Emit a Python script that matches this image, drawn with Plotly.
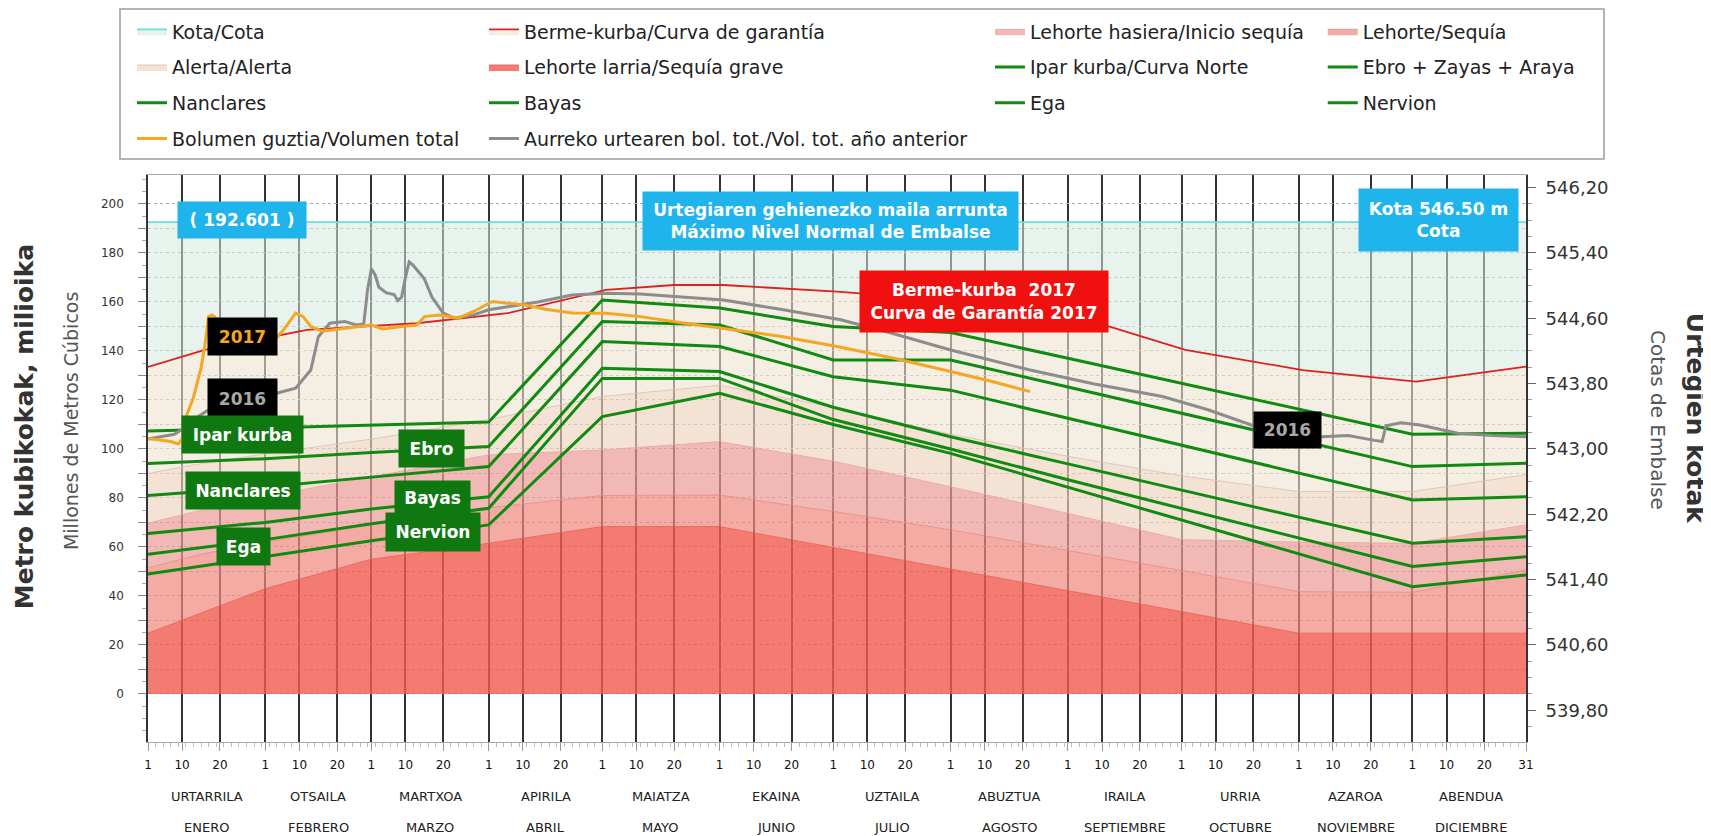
import plotly.graph_objects as go

# --- calendar (2017, day of year) -------------------------------------------
MONTH_START = [1, 32, 60, 91, 121, 152, 182, 213, 244, 274, 305, 335]
YEAR_END = 365
MONTHS_EU = ["URTARRILA", "OTSAILA", "MARTXOA", "APIRILA", "MAIATZA", "EKAINA",
             "UZTAILA", "ABUZTUA", "IRAILA", "URRIA", "AZAROA", "ABENDUA"]
MONTHS_ES = ["ENERO", "FEBRERO", "MARZO", "ABRIL", "MAYO", "JUNIO", "JULIO",
             "AGOSTO", "SEPTIEMBRE", "OCTUBRE", "NOVIEMBRE", "DICIEMBRE"]

# --- zone limits (hm3) -------------------------------------------------------
BAND_DAYS = [1, 15, 32, 60, 91, 121, 152, 182, 213, 244, 274, 305, 335, 365]
SEQ_GRAVE = [24.8, 33, 43, 55, 61.5, 68.3, 68.3, 59.8, 51, 42.2, 33.7, 24.8, 24.8, 24.8]
SEQUIA = [51.5, 57, 62, 69, 76, 81, 81.2, 74.5, 67, 58.7, 50.4, 41.8, 41.5, 50.6]
INICIO = [69.7, 75, 80.5, 88.7, 97.6, 99.6, 103, 95, 84.6, 73.7, 63, 62, 61.5, 69]
ALERTA = [90, 94, 98, 104, 112, 121.4, 126, 117, 106, 97, 89, 82.6, 82.6, 89.5]

BERME_DAYS = [1, 16, 43, 72, 96, 122, 140, 153, 183, 214, 230, 255, 275, 306, 336, 365]
BERME = [133.5, 140.4, 148.6, 151.3, 155.4, 164.9, 166.9, 166.9, 164.2, 160.5, 156,
         149.9, 140.4, 132.2, 127.5, 133.6]

KOTA_DAYS = [1, 365]
KOTA = [192.601, 192.601]

# --- operating curves ---------------------------------------------------------
CURVE_DAYS = [1, 32, 60, 91, 121, 152, 182, 213, 244, 274, 305, 335, 365]
IPAR = [107.3, 108.5, 109.5, 111, 160.8, 157.5, 150, 147.5, 137, 126.8, 116.3, 106, 106.4]
EBRO = [94.1, 96, 98.5, 101, 152, 150.6, 136.3, 136.3, 125.3, 114.6, 103.5, 92.8, 94.2]
NANCLARES = [81, 84.5, 88.5, 92.8, 143.8, 141.8, 129.5, 124, 112.5, 101.5, 90.3, 79.2, 80.5]
BAYAS = [65.5, 70, 75.5, 80.5, 132.9, 131.6, 117, 105, 93.9, 83.2, 72.2, 61.5, 64.2]
EGA = [57, 63, 69.5, 75.8, 128.8, 128.8, 112, 100, 87.4, 75.7, 63.6, 52, 56]
NERVION = [49, 56, 62.5, 69, 113.2, 122.7, 110, 98.2, 84.4, 71, 57.2, 43.8, 48.6]

# --- stored volume -------------------------------------------------------------
VOL17_DAYS = [1, 4, 7, 9, 10, 11, 13, 15, 16, 17, 18, 20, 25, 30, 35, 37, 40, 42, 44,
              47, 52, 60, 63, 65, 68, 72, 74, 78, 83, 87, 92, 96, 100, 106, 113, 122,
              131, 142, 153, 168, 183, 198, 213, 224, 234]
VOL17 = [104.3, 103.8, 103, 102, 104, 113, 121, 133, 142, 154, 154.7, 152, 148, 146,
         145.4, 149, 155.4, 154, 150, 148, 149, 150.6, 149, 149.5, 150, 150.6, 154,
         154.7, 153.4, 156.1, 160.2, 159.5, 158.9, 157, 155.5, 155.4, 154, 151.5,
         149.3, 146, 141.8, 137, 131.6, 127.5, 123.4]

VOL16_DAYS = [1, 5, 8, 10, 12, 15, 18, 22, 27, 32, 35, 40, 44, 46, 49, 53, 56, 58, 59,
              60, 61, 62, 64, 66, 67, 68, 69, 70, 71, 74, 76, 79, 82, 87, 91, 96, 104,
              113, 122, 131, 153, 168, 184, 198, 213, 234, 251, 269, 281, 293, 302,
              311, 318, 325, 327, 328, 332, 337, 341, 347, 356, 365]
VOL16 = [104, 105, 106, 108, 111, 114, 117, 120, 121, 122, 122.7, 124.8, 132.2, 145.8,
         151.3, 152, 150.6, 151, 165, 173.5, 171, 166, 163.7, 163, 160.5, 162, 170,
         176.3, 175, 169.4, 162, 155.4, 153.4, 154.7, 156.8, 158, 160, 162.8, 163.5,
         163.2, 160.8, 157, 152.7, 147, 140.4, 132.2, 126.5, 121.4, 116, 109.5, 107,
         105, 105.5, 103.5, 103, 109.5, 110.7, 109.8, 108.5, 106.4, 105.5, 105]

# --- axes -------------------------------------------------------------------------
Y_RANGE = [-19.6, 211.8]
Y_TICKS = list(range(0, 201, 10))
RIGHT_TICKS = [539.8, 540.6, 541.4, 542.2, 543.0, 543.8, 544.6, 545.4, 546.2]
M_BASE, M_PER_HM3 = 540.0, 0.03   # cota = 540 + 0.03 * volumen (axis scale)

FONT = "DejaVu Sans"
GREEN = "#118a11"

x_ticks, x_text = [], []
for m in MONTH_START:
    x_ticks += [m, m + 9, m + 19]
    x_text += ["1", "10", "20"]
x_ticks.append(YEAR_END)
x_text.append("31")

fig = go.Figure()

# zones, stacked bottom -> top
bands = [
    ("Lehorte larria/Sequía grave", BAND_DAYS, SEQ_GRAVE, "rgba(241,90,79,0.8)", "rgba(230,100,90,0.9)", "legend2", 2),
    ("Lehorte/Sequía", BAND_DAYS, SEQUIA, "rgba(239,136,124,0.7)", "rgba(225,140,130,0.8)", "legend4", 1),
    ("Lehorte hasiera/Inicio sequía", BAND_DAYS, INICIO, "rgba(236,154,149,0.7)", "rgba(225,165,160,0.8)", "legend3", 1),
    ("Alerta/Alerta", BAND_DAYS, ALERTA, "rgba(238,212,189,0.65)", "rgba(220,195,180,0.9)", "legend", 2),
    ("Berme-kurba/Curva de garantía", BERME_DAYS, BERME, "rgba(237,227,208,0.6)", "#dd2020", "legend2", 1),
    ("Kota/Cota", KOTA_DAYS, KOTA, "rgba(213,233,224,0.55)", "#6adede", "legend", 1),
]
for i, (name, xs, ys, fillc, linec, leg, rank) in enumerate(bands):
    fig.add_trace(go.Scatter(
        x=xs, y=ys, name=name, mode="lines",
        fill="tozeroy" if i == 0 else "tonexty", fillcolor=fillc,
        line=dict(color=linec, width=1.8 if i >= 4 else 1),
        legend=leg, legendrank=rank, legendgroup=name, hoverinfo="skip",
    ))

curves = [
    ("Ipar kurba/Curva Norte", IPAR, "legend3", 2),
    ("Ebro + Zayas + Araya", EBRO, "legend4", 2),
    ("Nanclares", NANCLARES, "legend", 3),
    ("Bayas", BAYAS, "legend2", 3),
    ("Ega", EGA, "legend3", 3),
    ("Nervion", NERVION, "legend4", 3),
]
for name, ys, leg, rank in curves:
    fig.add_trace(go.Scatter(
        x=CURVE_DAYS, y=ys, name=name, mode="lines",
        line=dict(color=GREEN, width=3),
        legend=leg, legendrank=rank, legendgroup=name,
    ))

fig.add_trace(go.Scatter(
    x=VOL16_DAYS, y=VOL16, name="Aurreko urtearen bol. tot./Vol. tot. año anterior",
    mode="lines", line=dict(color="#8c8c8c", width=3),
    legend="legend2", legendrank=4, legendgroup="v16",
))
fig.add_trace(go.Scatter(
    x=VOL17_DAYS, y=VOL17, name="Bolumen guztia/Volumen total",
    mode="lines", line=dict(color="#f5a623", width=3),
    legend="legend", legendrank=4, legendgroup="v17",
))
# carrier for the right-hand elevation axis
fig.add_trace(go.Scatter(
    x=KOTA_DAYS, y=[M_BASE + M_PER_HM3 * v for v in KOTA], yaxis="y2",
    mode="lines", line=dict(width=0), opacity=0, showlegend=False, hoverinfo="skip",
))

# --- text boxes ---------------------------------------------------------------
def box(x, y, text, bg, color="white", w=None, h=None, size=17):
    return dict(x=x, y=y, xref="x", yref="y", text=text, showarrow=False,
                bgcolor=bg, width=w, height=h, borderpad=0,
                xanchor="center", yanchor="middle",
                font=dict(family=FONT, size=size, color=color, weight="bold"))

annotations = [
    box(25.7, 193.5, "( 192.601 )", "#1fb4ec", w=128, h=36),
    box(181.4, 193.1, "Urtegiaren gehienezko maila arrunta<br>Máximo Nivel Normal de Embalse",
        "#1fb4ec", w=375, h=58),
    box(341.8, 193.5, "Kota 546.50 m<br>Cota", "#1fb4ec", w=159, h=62),
    box(221.9, 160, "Berme-kurba  2017<br>Curva de Garantía 2017", "#f01010", w=248, h=61),
    box(25.9, 145.9, "2017", "black", color="#f5a623", w=69, h=37),
    box(25.9, 120.6, "2016", "black", color="#a8a8a8", w=69, h=39),
    box(302.1, 107.8, "2016", "black", color="#a8a8a8", w=67, h=36),
    box(25.9, 105.9, "Ipar kurba", "#107810", w=121, h=37),
    box(26.0, 83.1, "Nanclares", "#107810", w=114, h=37),
    box(26.1, 60.2, "Ega", "#107810", w=53, h=37),
    box(75.8, 100.2, "Ebro", "#107810", w=65, h=37),
    box(76.1, 80.0, "Bayas", "#107810", w=75, h=33),
    box(76.2, 66.1, "Nervion", "#107810", w=94, h=38),
]

# month names, two rows
for i, m in enumerate(MONTH_START):
    nxt = MONTH_START[i + 1] if i + 1 < len(MONTH_START) else YEAR_END + 1
    mid = (m + nxt) / 2
    for label, yp in ((MONTHS_EU[i], -0.097), (MONTHS_ES[i], -0.150)):
        annotations.append(dict(x=mid, y=yp, xref="x", yref="paper", text=label,
                                xanchor="center", yanchor="middle", showarrow=False,
                                font=dict(family=FONT, size=13, color="#222")))

# axis titles
def side_title(x, y, text, angle, size, color):
    return dict(x=x, y=y, xref="paper", yref="paper", text=text, textangle=angle,
                xanchor="center", yanchor="middle", showarrow=False,
                font=dict(family=FONT, size=size, color=color))

annotations += [
    side_title(-0.090, 0.557, "<b>Metro kubikokak, milioika</b>", -90, 25, "#333"),
    side_title(-0.0559, 0.566, "Millones de Metros Cúbicos", -90, 19, "#555"),
    side_title(1.1226, 0.57, "<b>Urtegien kotak</b>", 90, 25, "#333"),
    side_title(1.0958, 0.568, "Cotas de Embalse", 90, 20, "#555"),
]

legend_common = dict(orientation="v", yanchor="top", y=1.2866, xanchor="left",
                     bgcolor="rgba(0,0,0,0)", tracegroupgap=8, traceorder="grouped",
                     font=dict(family=FONT, size=19, color="#222"))

# page body adds an 8px margin; the figure is sized so the plot area lands where
# the original one sits in the 1711x836 window
fig.update_layout(
    width=1703, height=828,
    margin=dict(l=140, r=185, t=167, b=94, autoexpand=False),
    paper_bgcolor="white", plot_bgcolor="white",
    font=dict(family=FONT, color="#333"),
    showlegend=True,
    legend=dict(legend_common, x=-0.0116),
    legend2=dict(legend_common, x=0.2438),
    legend3=dict(legend_common, x=0.6110),
    legend4=dict(legend_common, x=0.8525),
    annotations=annotations,
    shapes=[dict(type="rect", xref="paper", yref="paper", x0=-0.0203, x1=1.0566,
                 y0=1.0282, y1=1.2928, line=dict(color="#b4b4b4", width=2), layer="below")],
    xaxis=dict(
        range=[1, YEAR_END], tickmode="array", tickvals=x_ticks, ticktext=x_text,
        showgrid=True, gridcolor="#333", gridwidth=1.6,
        ticks="outside", ticklen=8, tickcolor="#999", ticklabelstandoff=4,
        minor=dict(dtick=2, tick0=1, ticks="outside", ticklen=4, tickcolor="#bbb", showgrid=False),
        showline=True, linecolor="#aaa", linewidth=1, mirror=True, zeroline=False,
        tickfont=dict(family=FONT, size=12, color="#111"),
    ),
    yaxis=dict(
        range=Y_RANGE, tickmode="array", tickvals=Y_TICKS,
        ticktext=[str(v) if v % 20 == 0 else "" for v in Y_TICKS],
        showgrid=True, gridcolor="#aaa", griddash="dot", gridwidth=1,
        ticks="outside", ticklen=8, tickcolor="#888", ticklabelstandoff=12,
        minor=dict(dtick=5, tick0=0, ticks="outside", ticklen=4, tickcolor="#aaa", showgrid=False),
        showline=True, linecolor="#333", linewidth=1.5, zeroline=False,
        tickfont=dict(family=FONT, size=12, color="#333"),
    ),
    yaxis2=dict(
        overlaying="y", side="right",
        range=[M_BASE + M_PER_HM3 * v for v in Y_RANGE],
        tickmode="array", tickvals=RIGHT_TICKS,
        ticktext=[f"{v:.2f}".replace(".", ",") for v in RIGHT_TICKS],
        showgrid=False, zeroline=False,
        ticks="outside", ticklen=8, tickcolor="#666", ticklabelstandoff=6,
        minor=dict(dtick=0.2, tick0=539.8, ticks="outside", ticklen=4, tickcolor="#999"),
        showline=True, linecolor="#333", linewidth=2,
        tickfont=dict(family=FONT, size=18, color="#333"),
    ),
)

fig.write_html("out.html")
